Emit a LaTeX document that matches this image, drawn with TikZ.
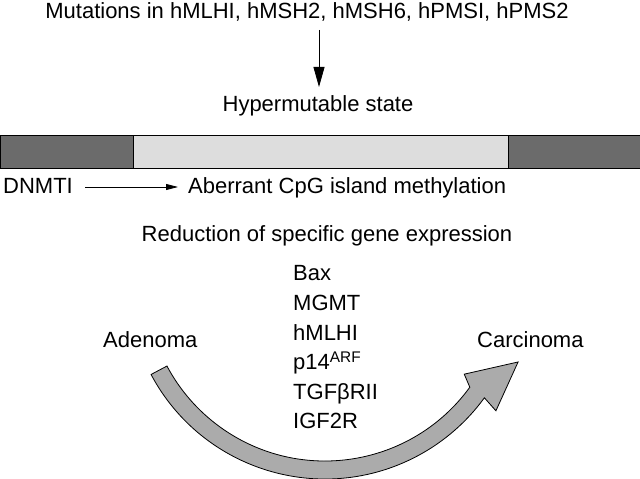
\documentclass[tikz,border=0pt]{standalone}
\usepackage{fontspec}
\setmainfont{Liberation Sans}
\usepackage{tikz}
\usetikzlibrary{arrows.meta}
\usetikzlibrary{calc}
\usetikzlibrary{positioning}
\definecolor{bardark}{HTML}{6B6B6B}
\definecolor{barlight}{HTML}{DDDDDD}
\definecolor{arrowgray}{HTML}{ABABAB}

\begin{document}
\begin{tikzpicture}[x=1pt, y=1pt,
    lbl/.style={anchor=base, inner sep=0pt, font=\fontsize{22}{26}\selectfont},
    gene/.style={lbl, anchor=base west},
    thin arrow/.style={line width=0.8pt, -{Triangle[length=12pt, width=6pt]}}]
      \useasboundingbox (0, 0) rectangle (640, 479);

      % top: mutations and hypermutable state
      \node[lbl] (mut) at (307, 460) {Mutations in hMLHI, hMSH2, hMSH6, hPMSI, hPMS2};
      \node[lbl] (hyper) at (318, 367) {Hypermutable state};
      \coordinate (mutarr) at (319, 449);
      \coordinate (hyperarr) at (319, 392);
      \draw[line width=0.8pt, -{Triangle[length=20pt, width=11pt]}] (mutarr) -- (hyperarr);

      % bar
      \draw[fill=bardark, line width=0.8pt] (0, 311) rectangle (133, 344);
      \draw[fill=barlight, line width=0.8pt] (133, 311) rectangle (508, 344);
      \draw[fill=bardark, line width=0.8pt] (508, 311) rectangle (640, 344);

      % methylation
      \node[lbl, anchor=base west] (dnmt) at (3, 285) {DNMTI};
      \node[lbl, anchor=base west] (aber) at (188, 285) {Aberrant CpG island methylation};
      \draw[thin arrow] ([xshift=12pt, yshift=7pt]dnmt.base east) -- ([xshift=-10pt, yshift=7pt]aber.base west);
      \node[lbl] (reduc) at (327, 237) {Reduction of specific gene expression};

      % genes
      \node[gene] (bax) at (293, 198) {Bax};
      \node[gene] (mgmt) at (293, 168) {MGMT};
      \node[gene] (mlh) at (293, 138) {hMLHI};
      \node[gene] (arf) at (293, 109) {p14\textsuperscript{ARF}};
      \node[gene] (tgf) at (293, 79) {TGFβRII};
      \node[gene] (igf) at (293, 50) {IGF2R};

      \node[lbl, anchor=base west] (aden) at (103, 131) {Adenoma};
      \node[lbl, anchor=base west] (carc) at (477, 131) {Carcinoma};

      % curved arrow
      \coordinate (c) at (325, 197);
      \draw[fill=arrowgray, line width=0.8pt] ($(c)+(208:197)$) arc[start angle=208, end angle=324, radius=197pt]
        -- ($(c)+(323:214)$) -- ($(c)+(337.5:209)$) -- ($(c)+(326.5:167)$)
        -- ($(c)+(324:179)$) arc[start angle=324, end angle=208, radius=179pt] -- cycle;
    \end{tikzpicture}
\end{document}
